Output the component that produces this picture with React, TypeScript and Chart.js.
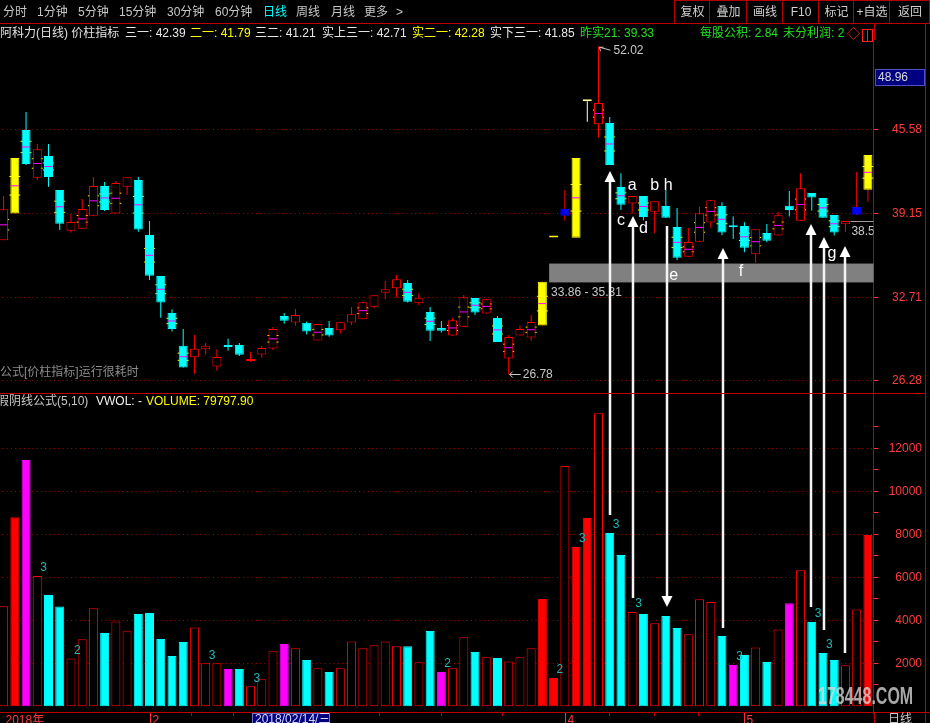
import React, { useEffect, useRef } from 'react';
import { Chart, registerables } from 'chart.js';

Chart.register(...registerables);

const FONT = "'Liberation Sans', 'Noto Sans CJK SC', sans-serif";
const OX = 2; // canvas shifted 2px left: page x = canvas x - OX

// ---------- daily candles (阿科力 日线) ----------
const openP = [37.10, 39.15, 45.58, 41.91, 43.58, 40.97, 37.84, 37.99, 38.99, 41.28,
  39.15, 41.22, 41.74, 37.51, 34.36, 31.51, 28.98, 28.11, 28.72, 27.39,
  29.05, 29.05, 27.82, 28.31, 28.77, 31.28, 30.77, 30.75, 29.39, 30.36,
  30.18, 30.77, 31.03, 31.99, 33.07, 33.41, 33.82, 32.26, 31.59, 30.36,
  29.77, 30.46, 32.67, 31.46, 31.13, 28.00, 29.77, 29.62, 30.54, 37.31,
  38.99, 37.30, 47.79, 46.02, 46.12, 41.20, 39.92, 40.51, 39.30, 39.74,
  38.12, 35.84, 36.99, 38.46, 39.74, 38.13, 38.20, 36.03, 37.66, 37.46,
  39.76, 38.61, 40.74, 40.35, 39.05, 38.33, 39.07, 40.99];
const highP = [40.51, 43.43, 46.96, 44.50, 44.50, 40.97, 39.12, 40.28, 41.97, 41.58,
  41.66, 41.94, 41.97, 38.59, 34.36, 31.80, 30.28, 29.82, 29.21, 28.72,
  29.52, 29.21, 28.52, 28.98, 30.44, 31.51, 31.82, 30.85, 30.67, 30.90,
  30.80, 31.97, 32.38, 32.87, 33.97, 34.43, 34.05, 33.03, 31.97, 30.90,
  31.13, 32.90, 32.67, 32.57, 31.28, 29.80, 30.54, 31.36, 33.92, 37.31,
  40.97, 43.43, 47.79, 52.02, 46.58, 42.25, 40.51, 40.51, 40.10, 40.97,
  39.58, 38.05, 39.68, 40.20, 40.02, 38.92, 38.49, 37.95, 38.36, 39.30,
  40.89, 42.25, 40.74, 40.35, 39.05, 38.59, 42.35, 43.66];
const lowP = [37.10, 39.15, 42.89, 41.74, 41.22, 37.89, 37.69, 37.99, 38.99, 39.35,
  39.15, 40.58, 37.76, 34.05, 31.15, 30.08, 27.31, 26.83, 28.29, 27.08,
  28.62, 28.21, 27.75, 28.08, 28.67, 30.69, 30.52, 29.85, 29.39, 29.69,
  29.95, 30.59, 31.03, 31.88, 32.57, 32.72, 32.31, 32.11, 29.36, 30.00,
  29.77, 30.46, 31.36, 31.46, 29.28, 26.78, 29.77, 29.39, 30.54, 37.31,
  38.61, 37.30, 46.22, 44.99, 42.89, 39.43, 39.15, 38.64, 37.64, 38.84,
  35.59, 35.84, 36.99, 38.07, 37.49, 37.20, 36.18, 35.38, 36.95, 37.46,
  38.92, 38.61, 39.38, 38.84, 37.46, 37.76, 39.07, 40.07];
const closeP = [39.48, 43.43, 42.97, 44.10, 41.97, 38.38, 38.51, 39.51, 41.28, 39.43,
  41.51, 41.94, 37.92, 34.38, 32.31, 30.28, 27.31, 28.75, 28.98, 28.13,
  28.90, 28.29, 27.90, 28.82, 30.28, 30.92, 31.36, 30.08, 30.67, 29.77,
  30.80, 31.41, 32.34, 32.87, 33.34, 34.10, 32.38, 32.64, 30.15, 30.15,
  30.95, 32.72, 31.54, 32.57, 29.28, 29.67, 30.28, 30.82, 33.92, 37.31,
  39.51, 43.43, 47.79, 47.66, 42.89, 39.84, 40.51, 38.89, 40.10, 38.84,
  35.76, 36.97, 39.18, 40.18, 37.69, 38.10, 36.53, 37.95, 37.07, 39.02,
  39.43, 41.10, 40.38, 38.84, 37.69, 38.59, 39.66, 43.66];
// r = red hollow, c = cyan, y = yellow, b = blue, t = T-board
const candleKind = ('rycrccrrrc' + 'rrcccccrrr' + 'ccrrrcrcrc' + 'rrrrrrcrcc' + 'rrcrcrrryy' +
  'bytrccrcrc' + 'crrrcccrcr' + 'crcccrby').split('');

// ---------- volume (x10) ----------
const volume = [4660, 8800, 11460, 6060, 5180, 4640, 2230, 3120, 4560, 3410,
  3950, 3490, 4290, 4340, 3130, 2340, 2990, 3670, 2000, 2000,
  1740, 1740, 930, 1260, 2560, 2900, 2700, 2150, 1770, 1600,
  1770, 3020, 2700, 2840, 3020, 2790, 2800, 2050, 3500, 1600,
  1770, 3210, 2530, 2280, 2250, 2090, 2280, 2700, 4990, 1320,
  11180, 7410, 8760, 13630, 8060, 7040, 4390, 4290, 3860, 4200,
  3640, 3350, 4980, 4850, 3270, 1920, 2390, 2740, 2060, 3580,
  4800, 6330, 3920, 2480, 2150, 1910, 4510, 7970];
// o = red outline, r = red filled, c = cyan, m = magenta
const volKind = ('ormoccoooc' + 'oocccccooo' + 'mcooomococ' + 'oooooococm' + 'oococooorr' +
  'orroccococ' + 'cooocmcoco' + 'mocccoor').split('');

// ---------- axes ----------
const priceTicks = [26.28, 32.71, 39.15, 45.58];
const volTicks = [1000, 2000, 3000, 4000, 5000, 6000, 7000, 8000, 9000, 10000, 11000, 12000, 13000];
const volLabelTicks = [2000, 4000, 6000, 8000, 10000, 12000];
const monthTicks = [{ i: 0, label: '2018年' }, { i: 13, label: '2' }, { i: 50, label: '4' }, { i: 66, label: '5' }];
const minorTimeTicks = [16.7, 20.4, 33.4, 39.0, 44.4, 53.9, 57.9, 61.9];
const cursorIndex = 22;
const cursorDate = '2018/02/14/三';
const cursorPrice = '48.96';

// ---------- annotations ----------
const volMarks: [number, string][] = [[3, '3'], [6, '2'], [18, '3'], [22, '3'], [39, '2'], [49, '2'],
  [51, '3'], [54, '3'], [56, '3'], [65, '3'], [72, '3'], [73, '3']];
const zoneLow = 33.86, zoneHigh = 35.31, zoneFrom = 48.6;
const highMark = { i: 53, v: 52.02 };
const lowMark = { i: 45, v: 26.78 };
const lastMark = { i: 75, v: 38.59 };
const letterMarks = [
  { t: 'a', x: 56, p: 41.27 }, { t: 'b', x: 58, p: 41.31 }, { t: 'h', x: 59.2, p: 41.31 },
  { t: 'c', x: 55, p: 38.58 }, { t: 'd', x: 57, p: 37.97 }, { t: 'e', x: 59.7, p: 34.39 },
  { t: 'f', x: 65.7, p: 34.70 }, { t: 'g', x: 73.8, p: 36.08 }];
const arrowMarks = [
  { x: 54, p: 42.43, v: 8900, down: false }, { x: 56.1, p: 38.97, v: 5040, down: false },
  { x: 59.1, p: 38.20, v: 4620, down: true }, { x: 64.1, p: 36.51, v: 3640, down: false },
  { x: 71.9, p: 38.35, v: 4620, down: false }, { x: 73.1, p: 37.35, v: 3550, down: false },
  { x: 74.95, p: 36.66, v: 2480, down: false }];

const toolbarTabs: [string, number, string?][] = [['分时', 3], ['1分钟', 37], ['5分钟', 78], ['15分钟', 119],
  ['30分钟', 167], ['60分钟', 215], ['日线', 263, '#00ffff'], ['周线', 296], ['月线', 331], ['更多', 364], ['>', 396]];
const buttonEdges = [674, 709, 746, 782, 818, 853, 889, 929];
const buttonLabels = ['复权', '叠加', '画线', 'F10', '标记', '+自选', '返回'];
const titleItems: [string, number, string][] = [
  ['阿科力(日线) 价柱指标', 0, '#e0e0e0'], ['三一: 42.39', 125, '#e8e8e8'], ['二一: 41.79', 190, '#ffff00'],
  ['三二: 41.21', 255, '#e8e8e8'], ['实上三一: 42.71', 322, '#e8e8e8'], ['实二一: 42.28', 412, '#ffff00'],
  ['实下三一: 41.85', 490, '#e8e8e8'], ['昨实21: 39.33', 580, '#22e022'], ['每股公积: 2.84', 700, '#22e022'],
  ['未分利润: 2', 783, '#22e022']];

const KIND_FILL: any = { r: '#000000', c: '#00ffff', y: '#ffff00', b: '#0000ff', t: '#ffffa0' };
const KIND_EDGE: any = { r: '#ff0000', c: '#00ffff', y: '#ffff00', b: '#0000ff', t: '#ffffa0' };
const KIND_WICK: any = { r: '#ff0000', c: '#00ffff', y: '#ff0000', b: '#ff0000', t: '#ffffff' };
const VOL_FILL: any = { o: '#000000', r: '#ff0000', c: '#00ffff', m: '#ff00ff' };
const VOL_EDGE: any = { o: '#ff0000', r: '#ff0000', c: '#00ffff', m: '#ff00ff' };

function drawArrow(ctx: any, x: number, yFrom: number, yTip: number) {
  const dir = yTip < yFrom ? -1 : 1;
  const head = 11, hw = 5.5;
  ctx.strokeStyle = '#f4f4f4';
  ctx.lineWidth = 2.5;
  ctx.beginPath();
  ctx.moveTo(x, yFrom);
  ctx.lineTo(x, yTip - dir * head);
  ctx.stroke();
  ctx.fillStyle = '#ffffff';
  ctx.beginPath();
  ctx.moveTo(x, yTip);
  ctx.lineTo(x - hw, yTip - dir * head);
  ctx.lineTo(x + hw, yTip - dir * head);
  ctx.closePath();
  ctx.fill();
}

const overlay = {
  id: 'overlay',
  beforeDraw(chart: any) {
    const ctx = chart.ctx;
    ctx.save();
    ctx.fillStyle = '#000000';
    ctx.fillRect(0, 0, chart.width, chart.height);
    ctx.restore();
  },
  beforeDatasetsDraw(chart: any) {
    const { ctx, chartArea: ca, scales } = chart;
    const x0 = scales.x.getPixelForValue(zoneFrom);
    const yt = scales.yP.getPixelForValue(zoneHigh);
    const yb = scales.yP.getPixelForValue(zoneLow);
    ctx.save();
    ctx.fillStyle = '#808080';
    ctx.fillRect(x0, yt, ca.right - x0, yb - yt);
    ctx.restore();
  },
  afterDraw(chart: any) {
    const { ctx, chartArea: ca, scales } = chart;
    const xs = scales.x, yP = scales.yP, yV = scales.yV;
    const px = (i: number) => xs.getPixelForValue(i);
    const text = (s: string, x: number, y: number, color: string, size = 12, align: any = 'left', weight = '') => {
      ctx.font = `${weight}${size}px ${FONT}`;
      ctx.fillStyle = color;
      ctx.textAlign = align;
      ctx.textBaseline = 'middle';
      ctx.fillText(s, x, y);
    };
    const line = (x1: number, y1: number, x2: number, y2: number, color: string, w = 1) => {
      ctx.strokeStyle = color;
      ctx.lineWidth = w;
      ctx.setLineDash([]);
      ctx.beginPath();
      ctx.moveTo(x1, y1);
      ctx.lineTo(x2, y2);
      ctx.stroke();
    };
    ctx.save();

    // zone label
    const zx = px(zoneFrom);
    text(`${zoneLow.toFixed(2)} - ${zoneHigh.toFixed(2)}`, zx + 2, yP.getPixelForValue(zoneLow) + 10, '#c8c8c8');

    // high mark
    {
      const x = px(highMark.i), y = yP.getPixelForValue(highMark.v);
      line(x + 1, y + 1, x + 12, y + 4, '#c8c8c8');
      line(x + 1, y + 1, x + 5, y + 1, '#c8c8c8');
      line(x + 1, y + 1, x + 2, y + 5, '#c8c8c8');
      text(highMark.v.toFixed(2), x + 15, y + 4, '#c8c8c8');
    }
    // low mark
    {
      const x = px(lowMark.i), y = Math.round(yP.getPixelForValue(lowMark.v)) + 0.5;
      line(x + 1, y, x + 12, y, '#c8c8c8');
      line(x + 1, y, x + 4, y - 3, '#c8c8c8');
      line(x + 1, y, x + 4, y + 3, '#c8c8c8');
      text(lowMark.v.toFixed(2), x + 14, y, '#c8c8c8');
    }
    // last price line (clipped to plot)
    ctx.save();
    ctx.beginPath();
    ctx.rect(ca.left, ca.top, ca.right - ca.left, ca.bottom - ca.top);
    ctx.clip();
    {
      const x = px(lastMark.i), y = Math.round(yP.getPixelForValue(lastMark.v)) + 0.5;
      line(x + 5, y, ca.right, y, '#a0a0a0');
      text(lastMark.v.toFixed(2), x + 6, y + 10, '#c8c8c8');
    }
    ctx.restore();

    // volume signal numbers
    volMarks.forEach(([i, s]) => text(s, px(i) + 3, yV.getPixelForValue(volume[i]) - 8, '#20b8b8'));

    // letters
    letterMarks.forEach(m => text(m.t, px(m.x), yP.getPixelForValue(m.p), '#ffffff', 16, 'center'));

    // arrows
    arrowMarks.forEach(a => {
      const x = Math.round(px(a.x));
      const yp = yP.getPixelForValue(a.p), yv = yV.getPixelForValue(a.v);
      if (a.down) drawArrow(ctx, x, yp, yv); else drawArrow(ctx, x, yv, yp);
    });

    // time axis: base line, ticks, month labels, cursor date box
    line(0, ca.bottom - 0.5, chart.width, ca.bottom - 0.5, '#c00000');
    minorTimeTicks.forEach(t => {
      const x = Math.round(px(t)) + 0.5;
      line(x, ca.bottom, x, ca.bottom + 3, '#c00000');
    });
    monthTicks.forEach(m => {
      const x = Math.round(px(m.i)) + 0.5;
      if (m.i > 0) line(x, ca.bottom, x, chart.height, '#ff3030');
      text(m.label, m.i > 0 ? x + 2 : x + 1, ca.bottom + 8, '#ff3c3c');
    });
    {
      const x = Math.round(px(cursorIndex)) + 1;
      ctx.fillStyle = '#000080';
      ctx.fillRect(x, ca.bottom, 78, 10);
      ctx.strokeStyle = '#7070c0';
      ctx.lineWidth = 1;
      ctx.strokeRect(x + 0.5, ca.bottom + 0.5, 77, 12);
      text(cursorDate, x + 3, ca.bottom + 7, '#d8d8ff');
    }

    // ---------- page-fixed chrome ----------
    ctx.translate(OX, 0);
    // toolbar
    toolbarTabs.forEach(([s, x, c]) => text(s, x, 13, c || '#c8c8c8'));
    for (let k = 0; k < buttonEdges.length; k++) line(buttonEdges[k] + 0.5, 0, buttonEdges[k] + 0.5, 24, '#b00000');
    line(buttonEdges[0], 0.5, 930, 0.5, '#b00000');
    buttonLabels.forEach((s, k) => text(s, (buttonEdges[k] + buttonEdges[k + 1]) / 2 + 1, 13, '#d0d0d0', 12, 'center'));
    line(0, 23.5, 930, 23.5, '#c00000');
    // title row
    titleItems.forEach(([s, x, c]) => text(s, x, 34, c));
    text('◇', 847, 34, '#ff2020', 13);
    ctx.strokeStyle = '#ff2020';
    ctx.lineWidth = 1;
    ctx.strokeRect(862.5, 29.5, 10, 12);
    line(867.5, 29.5, 867.5, 41.5, '#ff2020');
    // right column
    line(874.5, 24, 874.5, 40, '#c00000');
    line(874.5, 712, 874.5, 723, '#c00000');
    line(925.5, 24, 925.5, 723, '#c00000');
    ctx.fillStyle = '#000080';
    ctx.fillRect(875, 69, 50, 17);
    ctx.strokeStyle = '#5050c0';
    ctx.strokeRect(875.5, 69.5, 49, 16);
    text(cursorPrice, 878, 77.5, '#d8d8d8');
    // panel separator
    line(0, 393.5, 925, 393.5, '#c00000');
    text('公式[价柱指标]运行很耗时', 0, 373, '#8c8c8c');
    // volume header
    text('假阴线公式(5,10)', -3, 402, '#c8c8c8');
    text('VWOL: -', 96, 402, '#f0f0f0');
    text('VOLUME: 79797.90', 146, 402, '#ffff00');
    // bottom-right label
    text('日线', 888, 720, '#c8c8c8');
    // watermark
    ctx.save();
    ctx.translate(818, 704);
    ctx.scale(1, 1.5);
    ctx.font = `bold 16px 'Liberation Sans', sans-serif`;
    ctx.textAlign = 'left';
    ctx.textBaseline = 'alphabetic';
    ctx.fillStyle = 'rgba(215,215,215,0.78)';
    ctx.fillText('178448.COM', 0, 0);
    ctx.restore();

    ctx.restore();
  },
};

export default function App() {
  const ref = useRef<HTMLCanvasElement>(null);
  useEffect(() => {
    const canvas = ref.current;
    if (!canvas) return;
    const xLabels = openP.map((_, i) => {
      const m = monthTicks.find(t => t.i === i);
      return m ? m.label : String(i);
    });
    const bodyData = openP.map((o, i) => [Math.min(o, closeP[i]), Math.max(o, closeP[i])]);
    const wickData = lowP.map((l, i) => (highP[i] > l ? [l, highP[i]] : null));
    const showMarks = openP.map((o, i) => Math.abs(closeP[i] - o) >= 1 && candleKind[i] !== 'b' && candleKind[i] !== 't');
    const mid = openP.map((o, i) => (showMarks[i] ? (o + closeP[i]) / 2 : null));
    const tick1 = openP.map((o, i) => (showMarks[i] ? Math.min(o, closeP[i]) + Math.abs(closeP[i] - o) / 3 : null));
    const tick2 = openP.map((o, i) => (showMarks[i] ? Math.min(o, closeP[i]) + (2 * Math.abs(closeP[i] - o)) / 3 : null));

    const barCommon = {
      grouped: false,
      categoryPercentage: 1,
      barPercentage: 1,
      borderSkipped: false,
      inflateAmount: 0,
    };
    const pointCommon = {
      type: 'line',
      yAxisID: 'yP',
      showLine: false,
      pointStyle: 'line',
      pointHoverRadius: 0,
    };
    const yAfterFit = (w: number) => (s: any) => {
      s.width = w;
      s.paddingTop = 0;
      s.paddingBottom = 0;
      s.paddingLeft = 0;
      s.paddingRight = 0;
    };

    const chart = new Chart(canvas, {
      type: 'bar',
      data: {
        labels: xLabels,
        datasets: [
          { ...pointCommon, label: 'mid', data: mid, pointRadius: 4, pointBorderColor: '#ff00ff', pointBackgroundColor: '#ff00ff', pointBorderWidth: 1, order: 0 } as any,
          { ...barCommon, type: 'bar', label: 'body', yAxisID: 'yP', data: bodyData, backgroundColor: candleKind.map(k => KIND_FILL[k]), borderColor: candleKind.map(k => KIND_EDGE[k]), borderWidth: 1, maxBarThickness: 9, minBarLength: 2, order: 1 } as any,
          { ...barCommon, type: 'bar', label: 'wick', yAxisID: 'yP', data: wickData, backgroundColor: candleKind.map(k => KIND_WICK[k]), borderWidth: 0, maxBarThickness: 1, order: 2 } as any,
          { ...pointCommon, label: 't1', data: tick1, pointRadius: 5.5, pointBorderColor: '#ffff00', pointBackgroundColor: '#ffff00', pointBorderWidth: 1, order: 3 } as any,
          { ...pointCommon, label: 't2', data: tick2, pointRadius: 5.5, pointBorderColor: '#ffff00', pointBackgroundColor: '#ffff00', pointBorderWidth: 1, order: 3 } as any,
          { ...barCommon, type: 'bar', label: 'vol', yAxisID: 'yV', data: volume, backgroundColor: volKind.map(k => VOL_FILL[k]), borderColor: volKind.map(k => VOL_EDGE[k]), borderWidth: 1, maxBarThickness: 9, order: 4 } as any,
        ],
      },
      options: {
        responsive: false,
        maintainAspectRatio: false,
        animation: false,
        devicePixelRatio: 1,
        events: [],
        layout: { autoPadding: false, padding: { top: 40, left: 0, right: 0, bottom: 10 } },
        plugins: { legend: { display: false }, tooltip: { enabled: false } },
        scales: {
          x: {
            type: 'category',
            offset: true,
            display: false,
          },
          yP: {
            type: 'linear',
            position: 'right',
            weight: 1,
            min: 0.75,
            max: 52.5,
            afterBuildTicks: (s: any) => { s.ticks = priceTicks.map(v => ({ value: v })); },
            afterFit: yAfterFit(56.5),
            grid: { color: '#b00000', lineWidth: 1, drawTicks: true, tickLength: 5, tickColor: '#ff3030', tickBorderDash: [] },
            border: { display: true, color: '#c00000', dash: [1, 3.3] },
            ticks: {
              autoSkip: false, mirror: true, crossAlign: 'near', padding: 48.5, color: '#ff3c3c',
              font: { size: 12, family: FONT },
              callback: (v: any) => Number(v).toFixed(2),
            },
          },
          yV: {
            type: 'linear',
            position: 'right',
            weight: 0,
            min: -310,
            max: 31000,
            afterBuildTicks: (s: any) => { s.ticks = volTicks.map(v => ({ value: v })); },
            afterFit: yAfterFit(0),
            grid: {
              color: (c: any) => (c.tick && volLabelTicks.includes(c.tick.value) ? '#b00000' : 'rgba(0,0,0,0)'),
              lineWidth: 1, drawTicks: true, tickLength: 5, tickColor: '#ff3030', tickBorderDash: [],
            },
            border: { display: false, dash: [1, 3.3] },
            ticks: {
              autoSkip: false, mirror: true, crossAlign: 'near', padding: 48.5, color: '#ff3c3c',
              font: { size: 12, family: FONT },
              callback: (v: any) => (volLabelTicks.includes(v) ? String(v) : ''),
            },
          },
        },
      } as any,
      plugins: [overlay],
    });
    return () => chart.destroy();
  }, []);

  return (
    <div style={{ position: 'fixed', left: 0, top: 0, width: 930, height: 723, background: '#000', overflow: 'hidden' }}>
      <canvas ref={ref} width={932} height={723} style={{ position: 'absolute', left: -OX, top: 0, width: 932, height: 723, display: 'block' }} />
    </div>
  );
}
